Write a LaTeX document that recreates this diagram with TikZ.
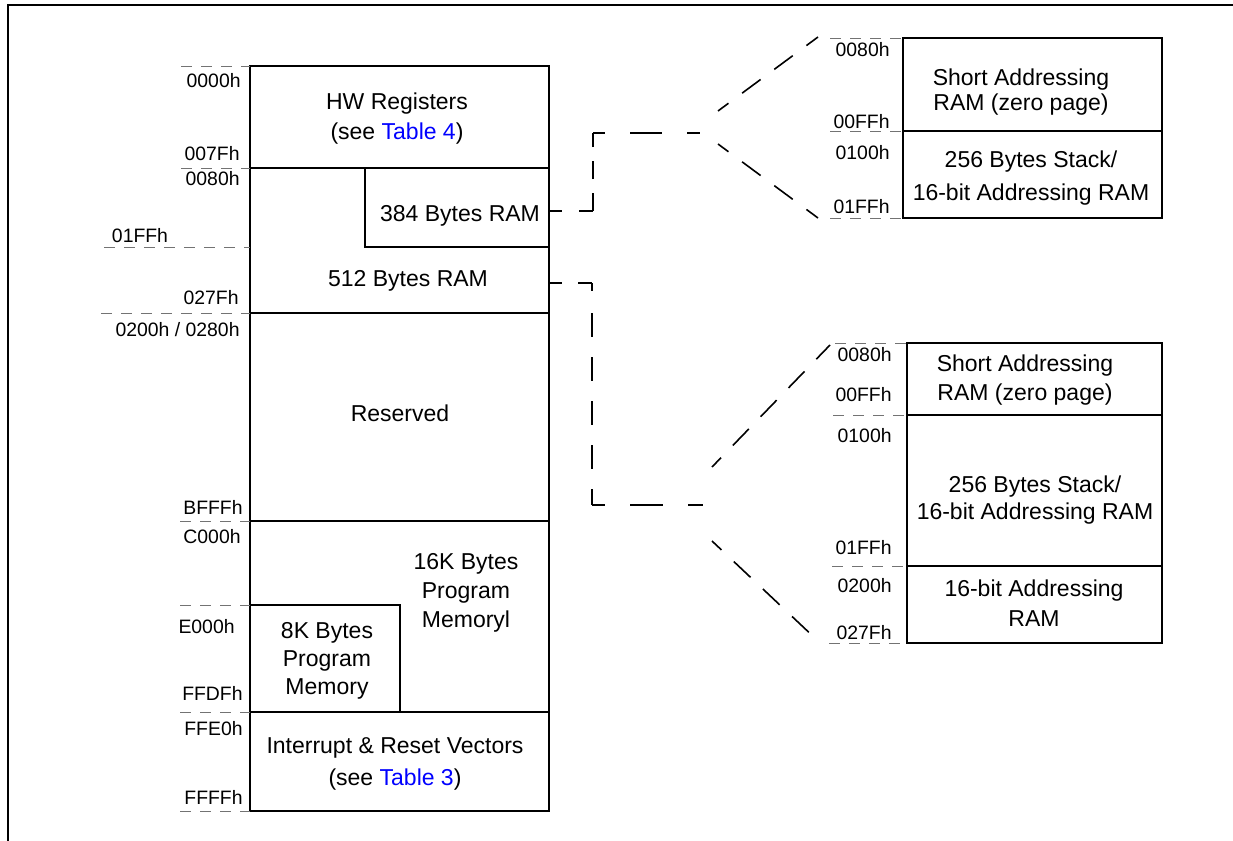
\documentclass[tikz,border=0pt]{standalone}
\usepackage{fontspec}
\setmainfont{Liberation Sans}
\begin{document}
\begin{tikzpicture}[x=0.5pt,y=-0.5pt,
  box/.style={line width=0.85pt},
  addr/.style={draw=black!55, line width=0.5pt, dash pattern=on 5.5pt off 4.5pt},
  conn/.style={line width=0.8pt},
  fan/.style={line width=0.8pt, dash pattern=on 6.5pt off 8.5pt on 11.5pt off 8.5pt on 11.5pt off 8.5pt on 11.5pt off 8.5pt on 11.5pt off 8.5pt},
  lbl/.style={font=\fontsize{9.7}{11}\selectfont, inner sep=0pt},
  txt/.style={font=\fontsize{11.5}{15}\selectfont, align=center, inner sep=0pt},
  link/.style={text=blue}
]
\useasboundingbox (0,0) rectangle (1233,841);
% frame
\draw[line width=1pt] (7.5,841) -- (7.5,4.5) -- (1233,4.5);

% ---------------- main memory map ----------------
\coordinate (mTL) at (250,66);
\coordinate (mBR) at (549,811);
\draw[box] (mTL) rectangle (mBR);
\draw[box] (250,168) -- (549,168);
\draw[box] (365,168) -- (365,247) -- (549,247);
\draw[box] (250,313) -- (549,313);
\draw[box] (250,521) -- (549,521);
\draw[box] (250,605) -- (400,605) -- (400,712);
\draw[box] (250,712) -- (549,712);

\node[txt] (hw) at (397,119) {HW Registers\\(see {\color{blue}Table 4})};
\node[txt] (r384) at (460,216) {384 Bytes RAM};
\node[txt] (r512) at (408,281) {512 Bytes RAM};
\node[txt] (res) at (400,413) {Reserved};
\node[txt, font=\fontsize{11.5}{14.5}\selectfont] (p16) at (466,593) {16K Bytes\\Program\\Memoryl};
\node[txt, font=\fontsize{11.5}{14}\selectfont] (p8) at (327,661) {8K Bytes\\Program\\Memory};
\node[txt, font=\fontsize{11.5}{16}\selectfont] (irq) at (395,764) {Interrupt \& Reset Vectors\\(see {\color{blue}Table 3})};

% left address lines
\draw[addr] (181,66) -- (250,66);
\draw[addr] (181,168) -- (250,168);
\draw[addr] (104,247) -- (250,247);
\draw[addr] (101,313) -- (250,313);
\draw[addr] (180,521) -- (250,521);
\draw[addr] (180,605) -- (250,605);
\draw[addr] (180,712) -- (250,712);
\draw[addr] (180,811) -- (250,811);

% left address labels
\node[lbl, anchor=east] (a0000) at (241,81) {0000h};
\node[lbl, anchor=east] (a007F) at (240,154) {007Fh};
\node[lbl, anchor=east] (a0080) at (240,179) {0080h};
\node[lbl] (a01FF) at (140,236) {01FFh};
\node[lbl, anchor=east] (a027F) at (239,298) {027Fh};
\node[lbl, anchor=east] (a0200) at (240,330) {0200h / 0280h};
\node[lbl, anchor=east] (aBFFF) at (243,507) {BFFFh};
\node[lbl, anchor=east] (aC000) at (241,537) {C000h};
\node[lbl, anchor=east] (aE000) at (235,627) {E000h};
\node[lbl, anchor=east] (aFFDF) at (243,693) {FFDFh};
\node[lbl, anchor=east] (aFFE0) at (243,729) {FFE0h};
\node[lbl, anchor=east] (aFFFF) at (243,797) {FFFFh};

% ---------------- upper detail (384 bytes) ----------------
\draw[box] (903,38) rectangle (1162,218);
\draw[box] (903,131) -- (1162,131);
\node[txt, font=\fontsize{11.5}{12.5}\selectfont] (ua) at (1021,92.5) {Short Addressing\\RAM (zero page)};
\node[txt, font=\fontsize{11.5}{16.5}\selectfont] (ub) at (1031,178.5) {256 Bytes Stack/\\16-bit Addressing RAM};
\draw[addr] (830,38) -- (903,38);
\draw[addr] (830,131) -- (903,131);
\draw[addr] (830,218) -- (903,218);
\node[lbl, anchor=east] (u0080) at (890,50) {0080h};
\node[lbl, anchor=east] (u00FF) at (890,122) {00FFh};
\node[lbl, anchor=east] (u0100) at (890,153) {0100h};
\node[lbl, anchor=east] (u01FF) at (890,207) {01FFh};

% ---------------- lower detail (512 bytes) ----------------
\draw[box] (907,343) rectangle (1162,643);
\draw[box] (907,415) -- (1162,415);
\draw[box] (907,566) -- (1162,566);
\node[txt, font=\fontsize{11.5}{14.5}\selectfont] (la) at (1025,380) {Short Addressing\\RAM (zero page)};
\node[txt, font=\fontsize{11.5}{13.5}\selectfont] (lb) at (1035,500) {256 Bytes Stack/\\16-bit Addressing RAM};
\node[txt, font=\fontsize{11.5}{15}\selectfont] (lc) at (1034,603) {16-bit Addressing\\RAM};
\draw[addr] (835,343) -- (907,343);
\draw[addr] (833,415) -- (907,415);
\draw[addr] (832,566) -- (907,566);
\draw[addr] (829,643) -- (907,643);
\node[lbl, anchor=east] (l0080) at (892,355) {0080h};
\node[lbl, anchor=east] (l00FF) at (892,395) {00FFh};
\node[lbl, anchor=east] (l0100) at (892,436) {0100h};
\node[lbl, anchor=east] (l01FF) at (892,548) {01FFh};
\node[lbl, anchor=east] (l0200) at (892,586) {0200h};
\node[lbl, anchor=east] (l027F) at (892,633) {027Fh};

% ---------------- connectors ----------------
\coordinate (c1s) at (549,211);
\coordinate (c1a) at (593,211);
\coordinate (c1b) at (593,133);
\coordinate (c1e) at (700,133);
\coordinate (f1a) at (718,111);
\coordinate (f1b) at (818,37);
\coordinate (f1c) at (718,144);
\coordinate (f1d) at (818,218);
\draw[conn, dash pattern=on 6.5pt off 8.5pt on 7pt off 5pt] (c1s) -- (c1a);
\draw[conn, dash pattern=on 9pt off 7pt on 9pt off 7pt on 7pt off 5pt] (c1a) -- (c1b);
\draw[conn, dash pattern=on 6pt off 12.5pt on 16pt off 12.5pt on 6.5pt off 10pt] (c1b) -- (c1e);
\draw[fan] (f1a) -- (f1b);
\draw[fan] (f1c) -- (f1d);

\coordinate (c2s) at (549,283);
\coordinate (c2a) at (592,283);
\coordinate (c2b) at (592,505);
\coordinate (c2e) at (703,505);
\coordinate (f2a) at (712,467);
\coordinate (f2b) at (830,345);
\coordinate (f2c) at (712,541);
\coordinate (f2d) at (817,640);
\draw[conn, dash pattern=on 6.5pt off 8pt on 7pt off 5pt] (c2s) -- (c2a);
\draw[conn, dash pattern=on 4pt off 11pt on 12pt off 10pt on 12pt off 10pt on 12pt off 10pt on 12pt off 10pt on 12pt off 10pt] (c2a) -- (c2b);
\draw[conn, dash pattern=on 6.5pt off 12.5pt on 16.5pt off 12.5pt on 7.5pt off 10pt] (c2b) -- (c2e);
\draw[fan] (f2a) -- (f2b);
\draw[fan] (f2c) -- (f2d);
\end{tikzpicture}
\end{document}
